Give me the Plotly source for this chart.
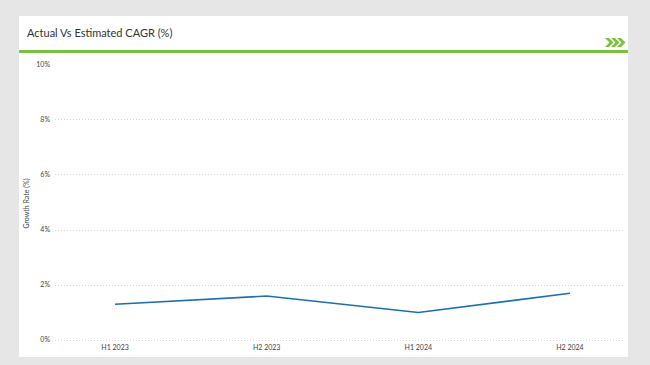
import plotly.graph_objects as go

categories = ["H1 2023", "H2 2023", "H1 2024", "H2 2024"]
growth = [1.3, 1.6, 1.0, 1.7]
y_ticks = [0, 2, 4, 6, 8, 10]
y_tick_labels = ["0%", "2%", "4%", "6%", "8%", "10%"]

W, H = 650, 365
L, R, T, B = 55, 25, 64, 22

fig = go.Figure()
fig.add_trace(go.Scatter(
    x=list(range(len(categories))), y=growth, mode="lines",
    line=dict(color="#1f6eb0", width=1.6), hoverinfo="skip", showlegend=False,
))

def px(xp):
    return (xp - L) / (W - L - R)

def py(yp):
    return 1 - (yp - T) / (H - T - B)

def chevron(x0):
    pts = [(x0, 38), (x0 + 4, 38), (x0 + 8.5, 42.5), (x0 + 4, 47), (x0, 47), (x0 + 4.5, 42.5)]
    d = "M " + " L ".join(f"{px(a):.5f},{py(b):.5f}" for a, b in pts) + " Z"
    return dict(type="path", xref="paper", yref="paper", path=d,
                fillcolor="#7ac143", line=dict(width=0), layer="above")

shapes = [
    dict(type="rect", xref="paper", yref="paper", x0=px(19), x1=px(628), y0=py(357), y1=py(16),
         fillcolor="white", line=dict(width=0), layer="below"),
    dict(type="line", xref="paper", yref="paper", x0=px(19), x1=px(628), y0=py(51.5), y1=py(51.5),
         line=dict(color="#7ac143", width=3), layer="above"),
    chevron(605), chevron(611), chevron(617),
]

annotations = [
    dict(text="Actual Vs Estimated CAGR (%)", xref="paper", yref="paper", x=px(25), y=py(32),
         xanchor="left", yanchor="middle", showarrow=False,
         font=dict(family="Lato", size=11, color="#333333")),
]

fig.update_layout(
    width=W, height=H,
    margin=dict(l=L, r=R, t=T, b=B),
    paper_bgcolor="#e6e6e6", plot_bgcolor="white",
    shapes=shapes, annotations=annotations,
    font=dict(family="Lato", color="#555555"),
    xaxis=dict(
        tickmode="array", tickvals=list(range(len(categories))), ticktext=categories,
        range=[-0.396, 3.363], showgrid=False, zeroline=False, showline=False,
        tickfont=dict(size=7, color="#444444"), ticks="", ticklen=0, ticklabelstandoff=-1,
    ),
    yaxis=dict(
        range=[-0.109, 10.036], tickmode="array", tickvals=y_ticks, ticktext=y_tick_labels,
        showgrid=True, gridcolor="#d6d6d6", griddash="1px,2px", gridwidth=1,
        zeroline=False, showline=False, ticklabelstandoff=4,
        tickfont=dict(size=7, color="#444444"), ticks="", ticklen=0,
        title=dict(text="Growth Rate (%)", font=dict(size=7, color="#444444"), standoff=5),
    ),
)

fig.write_html("out.html", config={"displayModeBar": False},
               post_script="document.body.style.margin='0';document.body.style.overflow='hidden';")
